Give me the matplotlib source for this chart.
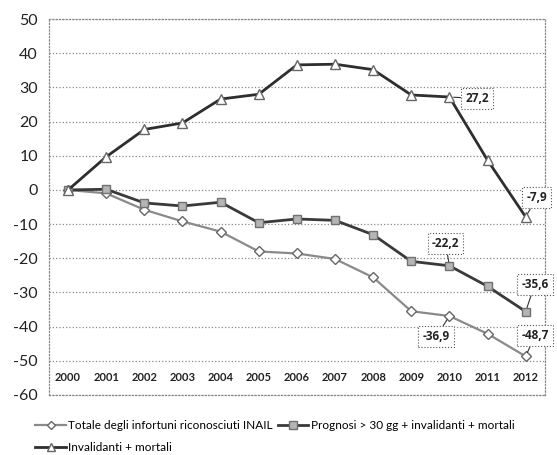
import matplotlib.pyplot as plt

years = ["2000", "2001", "2002", "2003", "2004", "2005", "2006",
         "2007", "2008", "2009", "2010", "2011", "2012"]

totale = [0, -1.0, -5.8, -9.2, -12.2, -18.0, -18.6, -20.2, -25.6, -35.5, -36.9, -42.1, -48.7]
prognosi = [0, 0.2, -3.8, -4.7, -3.6, -9.6, -8.5, -8.9, -13.1, -20.9, -22.2, -28.2, -35.6]
invalidanti = [0, 9.7, 17.7, 19.6, 26.6, 28.0, 36.6, 36.8, 35.2, 27.8, 27.2, 8.7, -7.9]

y_ticks = [50, 40, 30, 20, 10, 0, -10, -20, -30, -40, -50, -60]

# (series, index, label text, box offset in data units)
annotations = [
    (invalidanti, 10, "27,2", (0.72, -0.4)),
    (invalidanti, 12, "-7,9", (0.29, 5.6)),
    (prognosi, 10, "-22,2", (-0.1, 6.5)),
    (prognosi, 12, "-35,6", (0.24, 8.0)),
    (totale, 12, "-48,7", (0.24, 6.0)),
    (totale, 10, "-36,9", (-0.35, -6.1)),
]

plt.rcParams["font.family"] = ["Lato", "DejaVu Sans"]

fig = plt.figure(figsize=(5.57, 4.55), dpi=100)
ax = fig.add_axes([0.088, 0.132, 0.890, 0.826])

x = list(range(len(years)))

l_tot, = ax.plot(x, totale, color="#8a8a8a", lw=1.6, marker="D", ms=5,
                 mfc="white", mec="#666666", mew=1.0, zorder=3,
                 label="Totale degli infortuni riconosciuti INAIL")
l_pro, = ax.plot(x, prognosi, color="#3a3a3a", lw=2.0, marker="s", ms=6,
                 mfc="#b5b5b5", mec="#707070", mew=1.0, zorder=4,
                 label="Prognosi > 30 gg + invalidanti + mortali")
l_inv, = ax.plot(x, invalidanti, color="#2e2e2e", lw=2.0, marker="^", ms=7,
                 mfc="white", mec="#666666", mew=1.0, zorder=5,
                 label="Invalidanti + mortali")

for series, i, text, (dx, dy) in annotations:
    ax.annotate(text, xy=(i, series[i]), xytext=(i + dx, series[i] + dy),
                textcoords="data", ha="center", va="center",
                fontsize=8.5, fontweight="bold", color="#222222",
                family=["Open Sans", "DejaVu Sans"],
                bbox=dict(boxstyle="square,pad=0.35", fc="white",
                          ec="#555555", ls=":", lw=0.8),
                arrowprops=dict(arrowstyle="-", color="#333333", lw=0.8,
                                shrinkA=0, shrinkB=3),
                zorder=6)

ax.set_xlim(-0.5, len(years) - 0.5)
ax.set_ylim(-60, 50)
ax.set_yticks(y_ticks)
ax.set_yticklabels([str(v) for v in y_ticks], fontsize=11.5, color="#222222")
ax.set_xticks([])
ax.tick_params(axis="y", length=0, pad=8)

for i, yr in enumerate(years):
    ax.text(i, -55, yr, ha="center", va="center", fontsize=8,
            fontweight="bold", color="#222222")

ax.grid(axis="y", color="#8a8a8a", ls=":", lw=0.9)
ax.set_axisbelow(True)
for side in ["left", "right", "top", "bottom"]:
    ax.spines[side].set_linestyle(":")
    ax.spines[side].set_color("#8a8a8a")
    ax.spines[side].set_linewidth(0.9)

fig.legend(handles=[l_tot, l_inv, l_pro], ncol=2, loc="upper left",
           bbox_to_anchor=(0.055, 0.088), frameon=False, fontsize=8.5,
           handlelength=2.6, handletextpad=0.2, columnspacing=0.4,
           labelspacing=0.95, borderaxespad=0, markerscale=0.85)

fig.savefig("out.png", dpi=100)
